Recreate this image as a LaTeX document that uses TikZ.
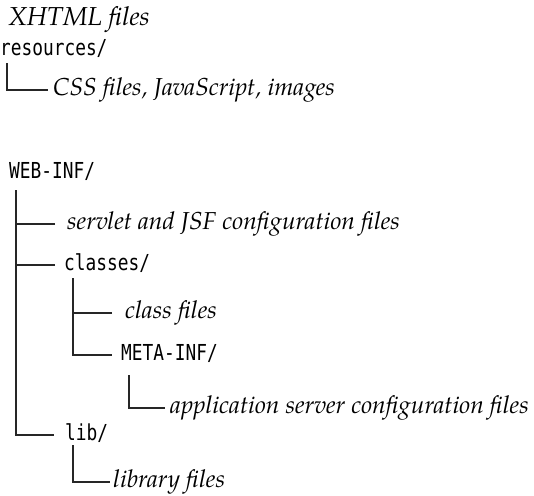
\documentclass[tikz,border=0pt]{standalone}
\usepackage{fontspec}
\newfontfamily\dirfont[FakeStretch=0.81]{DejaVu Sans Mono}
\newfontfamily\notefont{texgyrepagella-italic.otf}
\usetikzlibrary{positioning}
\tikzset{
    dir/.style={anchor=west, inner sep=0pt, text height=14pt, text depth=4pt, font=\dirfont\fontsize{22}{26}\selectfont},
    note/.style={anchor=west, inner sep=0pt, text height=14pt, text depth=4pt, font=\notefont\fontsize{24.5}{28}\selectfont},
    heading/.style={note, font=\notefont\fontsize{26}{30}\selectfont},
    branch/.style={line width=1.1pt, black!85}
}

\begin{document}
\begin{tikzpicture}[x=1pt, y=1pt]
        \useasboundingbox (0,0) rectangle (534,-495);

        % top level
        \node (xhtml) [heading] at (8,-21) {XHTML files};
        \node (resources) [dir] at (0,-51) {resources/};
        \node (css) [note] at (53,-90) {CSS files, JavaScript, images};

        \node (webinf) [dir] at (9,-173) {WEB-INF/};
        \node (servlet) [note] at (67,-224) {servlet and JSF configuration files};
        \node (classes) [dir] at (64,-265) {classes/};
        \node (classfiles) [note] at (125,-313) {class files};
        \node (metainf) [dir] at (121,-355) {META-INF/};
        \node (appserver) [note] at (170,-408) {application server configuration files};
        \node (lib) [dir] at (65,-435) {lib/};
        \node (libfiles) [note] at (113,-482) {library files};

        % stems
        \coordinate (res_top) at (7,-63);
        \coordinate (web_top) at (16,-190);
        \coordinate (cls_top) at (73,-278);
        \coordinate (meta_top) at (129,-375);
        \coordinate (lib_top) at (73,-445);

        % branches
        \draw[branch] (res_top) |- ([xshift=-5pt]css.west);
        \draw[branch] (web_top) |- ([xshift=-11pt]lib.west);
        \draw[branch] ([xshift=-12pt]servlet.west) -- (servlet.west -| web_top);
        \draw[branch] ([xshift=-9pt]classes.west) -- (classes.west -| web_top);
        \draw[branch] (cls_top) |- ([xshift=-9pt]metainf.west);
        \draw[branch] ([xshift=-13pt]classfiles.west) -- (classfiles.west -| cls_top);
        \draw[branch] (meta_top) |- ([xshift=-5pt]appserver.west);
        \draw[branch] (lib_top) |- ([xshift=-3pt]libfiles.west);

    \end{tikzpicture}
\end{document}
